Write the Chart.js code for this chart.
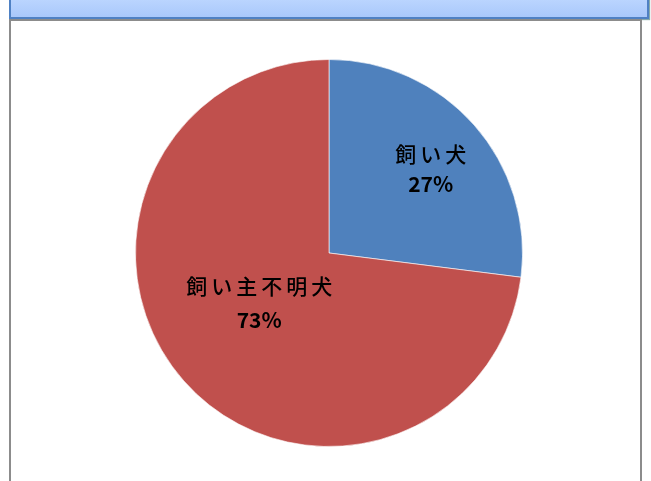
<!DOCTYPE html>
<html>
<head>
    <meta charset="utf-8">
    <title>飼い犬</title>
    <script src="https://cdn.jsdelivr.net/npm/chart.js"></script>
    <style>
        body { margin: 0; background: #fff; width: 651px; height: 481px; overflow: hidden; position: relative; }
        #header { position: absolute; left: 9px; top: -4px; width: 636px; height: 19px;
                  background: linear-gradient(#bcd6ff, #a9c8fb); border: 2px solid #4f81c4;
                  box-shadow: 1px 1px 1px #8aa; }
        #frame { position: absolute; left: 9px; top: 19px; width: 629px; height: 480px;
                 border: 2px solid #8c8c8c; border-bottom: none; background: #fff; }
        #box { position: absolute; left: 134px; top: 58px; width: 390px; height: 390px; }
    </style>
</head>
<body>
    <div id="header"></div>
    <div id="frame"></div>
    <div id="box"><canvas id="pieChart" width="390" height="390"></canvas></div>
    <script>
        const categories = ['飼い犬', '飼い主不明犬'];
        const values = [27, 73];
        const percentLabels = ['27%', '73%'];
        const colors = ['#4f81bd', '#c0504d'];

        // labels drawn at the arc's own angle, at a chosen fraction of the radius
        const labelPlugin = {
            id: 'sliceLabels',
            afterDatasetsDraw(chart, args, opts) {
                const ctx = chart.ctx;
                chart.getDatasetMeta(0).data.forEach((arc, i) => {
                    const p = arc.getProps(['x', 'y', 'startAngle', 'endAngle', 'outerRadius'], true);
                    const mid = (p.startAngle + p.endAngle) / 2;
                    const r = p.outerRadius * opts.radius[i];
                    const cx = p.x + Math.cos(mid) * r + opts.nudge[i][0];
                    const cy = p.y + Math.sin(mid) * r + opts.nudge[i][1];
                    const half = opts.gap[i] / 2;
                    ctx.save();
                    ctx.fillStyle = '#000';
                    ctx.textAlign = 'center';
                    ctx.textBaseline = 'middle';
                    ctx.font = '500 21px "Noto Sans CJK JP"';
                    ctx.letterSpacing = '4px';
                    ctx.fillText(categories[i], cx + 2, cy - half);
                    ctx.font = 'bold 21px "Noto Sans CJK JP"';
                    ctx.letterSpacing = '0px';
                    ctx.fillText(percentLabels[i], cx, cy + half);
                    ctx.restore();
                });
            }
        };

        new Chart(document.getElementById('pieChart'), {
            type: 'pie',
            data: {
                labels: categories,
                datasets: [{
                    data: values,
                    backgroundColor: colors,
                    borderColor: 'rgba(255,255,255,0.6)',
                    borderWidth: 1
                }]
            },
            options: {
                responsive: false,
                animation: false,
                layout: { padding: 1 },
                plugins: {
                    legend: { display: false },
                    tooltip: { enabled: false },
                    sliceLabels: {
                        radius: [0.68, 0.44],
                        nudge: [[3, 3], [-6, -6]],
                        gap: [30, 34]
                    }
                }
            },
            plugins: [labelPlugin]
        });
    </script>
</body>
</html>
